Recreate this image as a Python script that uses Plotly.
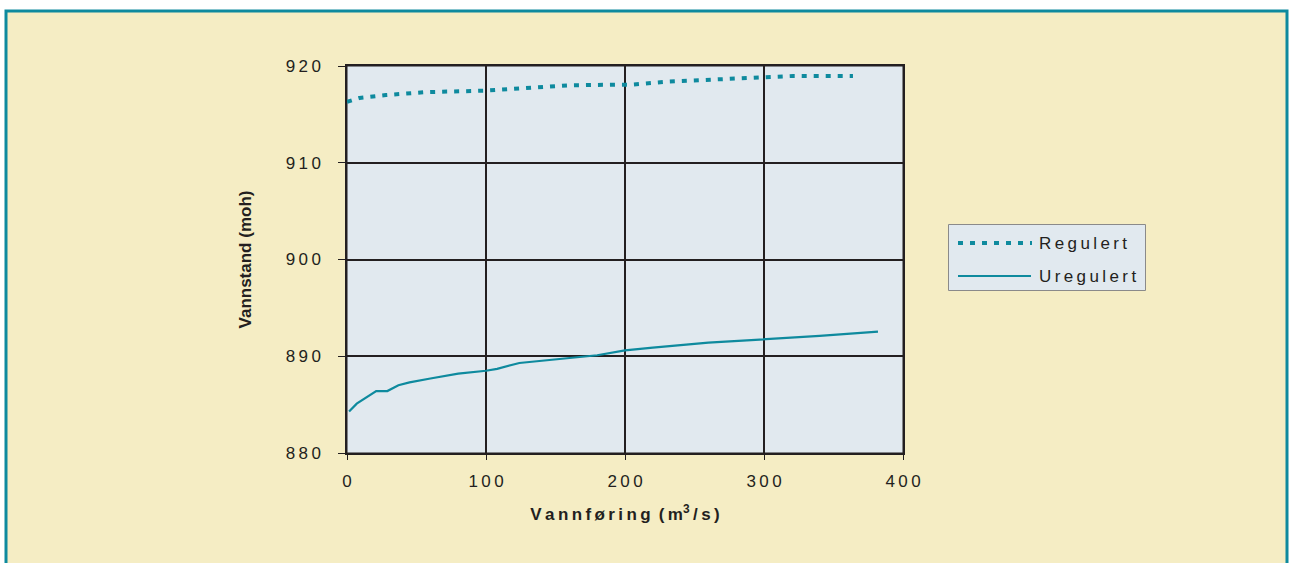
import plotly.graph_objects as go

# Vannføring (m3/s) og vannstand (moh) for regulert og uregulert tilstand
regulert_q = [0, 9, 28, 57, 99, 136, 160, 194, 204, 230, 270, 300, 321, 364]
regulert_h = [916.3, 916.7, 917.0, 917.3, 917.45, 917.8, 918.0, 918.07, 918.07, 918.38, 918.63, 918.8, 918.97, 918.97]

uregulert_q = [1.5, 7, 21, 29, 37, 45, 60, 80, 100, 108, 124, 180, 200, 220, 260, 300, 340, 382]
uregulert_h = [884.3, 885.1, 886.4, 886.4, 887.0, 887.3, 887.7, 888.2, 888.5, 888.7, 889.3, 890.1, 890.6, 890.9, 891.4, 891.75, 892.1, 892.55]

x_ticks = [0, 100, 200, 300, 400]
y_ticks = [880, 890, 900, 910, 920]

series_names = ["Regulert", "Uregulert"]

LINE = "#0E8A9E"
INK = "#231F20"
CREAM = "#F5EDC4"
PANEL = "#E1E9EF"
SP = "\u2009"
NBSP = "\u00a0"
DOTS = "5px,7px"
FONT = "Liberation Sans, Arial, sans-serif"


def spaced(s):
    return SP.join(s)


# plot area in pixels within the 1289x563 page
W, H = 1289, 563
L, R, T, B = 347, 903, 66, 453


def px(x):
    return (x - L) / (R - L)


def py(y):
    return (B - y) / (B - T)


fig = go.Figure()
fig.add_trace(go.Scatter(
    x=regulert_q, y=regulert_h, mode="lines", name=series_names[0],
    line=dict(color=LINE, width=4, dash=DOTS), showlegend=False,
))
fig.add_trace(go.Scatter(
    x=uregulert_q, y=uregulert_h, mode="lines", name=series_names[1],
    line=dict(color=LINE, width=2.2), showlegend=False,
))

shapes = [
    # cream frame with teal border
    dict(type="rect", xref="paper", yref="paper", layer="below",
         x0=px(6), x1=px(1287), y0=py(575), y1=py(11),
         fillcolor=CREAM, line=dict(color=LINE, width=3)),
    # plot panel
    dict(type="rect", xref="paper", yref="paper", layer="below",
         x0=0, x1=1, y0=0, y1=1, fillcolor=PANEL, line=dict(color=INK, width=1)),
    # legend box
    dict(type="rect", xref="paper", yref="paper", layer="above",
         x0=px(948.5), x1=px(1145.5), y0=py(290.5), y1=py(224.5),
         fillcolor=PANEL, line=dict(color="#8A8A8A", width=1)),
    # legend samples
    dict(type="line", xref="paper", yref="paper", layer="above",
         x0=px(958), x1=px(1032), y0=py(243), y1=py(243),
         line=dict(color=LINE, width=4, dash=DOTS)),
    dict(type="line", xref="paper", yref="paper", layer="above",
         x0=px(958), x1=px(1031), y0=py(276), y1=py(276),
         line=dict(color=LINE, width=2.2)),
]

annotations = [
    dict(xref="paper", yref="paper", x=px(1037), y=py(y), xanchor="left", yanchor="middle",
         text=spaced(name), showarrow=False, font=dict(size=17, color=INK, family=FONT))
    for name, y in zip(series_names, [243, 276])
]

x_title = ("<b>" + spaced("Vannføring") + NBSP + SP + "(" + SP + "m<sup>3</sup>" + SP + "/" + SP
           + "s" + SP + ")</b>")

fig.update_layout(
    width=W, height=H,
    margin=dict(l=L, r=W - R, t=T, b=H - B, pad=0),
    paper_bgcolor="white",
    plot_bgcolor="rgba(0,0,0,0)",
    font=dict(family=FONT, size=17, color=INK),
    shapes=shapes,
    annotations=annotations,
    showlegend=False,
    xaxis=dict(
        range=[0, 400], tickvals=x_ticks, ticktext=[spaced(str(v)) for v in x_ticks],
        showgrid=True, gridcolor=INK, gridwidth=1.5, zeroline=False,
        showline=True, linecolor=INK, linewidth=1.5, mirror=True,
        ticks="outside", ticklen=5, tickcolor=INK, ticklabelstandoff=7,
        automargin=False,
        title=dict(text=x_title, standoff=18, font=dict(size=17)),
    ),
    yaxis=dict(
        range=[880, 920], tickvals=y_ticks, ticktext=[spaced(str(v)) for v in y_ticks],
        showgrid=True, gridcolor=INK, gridwidth=1.5, zeroline=False,
        showline=True, linecolor=INK, linewidth=1.5, mirror=True,
        ticks="outside", ticklen=7, tickcolor=INK, ticklabelstandoff=14,
        automargin=False,
        title=dict(text="<b>Vannstand (moh)</b>", standoff=30, font=dict(size=17)),
    ),
)

fig.write_html("out.html")
